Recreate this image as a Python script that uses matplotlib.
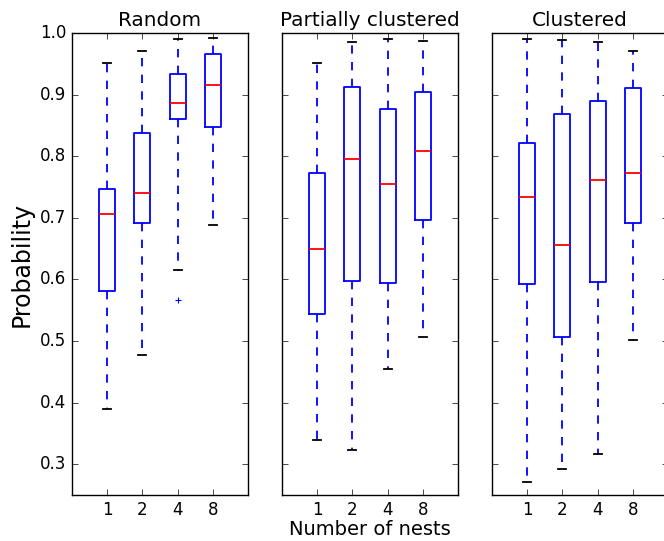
import matplotlib
matplotlib.use("Agg")
import matplotlib.pyplot as plt

plt.style.use('classic')

titles = ['Random', 'Partially clustered', 'Clustered']
nests = ['1', '2', '4', '8']

# whisker low, Q1, median, Q3, whisker high for each nest count
random_low = [0.389, 0.477, 0.616, 0.688]
random_q1 = [0.581, 0.691, 0.861, 0.848]
random_med = [0.706, 0.741, 0.886, 0.915]
random_q3 = [0.746, 0.838, 0.934, 0.966]
random_high = [0.952, 0.971, 0.990, 0.992]
random_fliers = [[], [], [0.566], []]

partial_low = [0.339, 0.323, 0.455, 0.506]
partial_q1 = [0.544, 0.597, 0.594, 0.697]
partial_med = [0.649, 0.796, 0.755, 0.808]
partial_q3 = [0.773, 0.912, 0.877, 0.905]
partial_high = [0.952, 0.986, 0.990, 0.987]
partial_fliers = [[], [], [], []]

clustered_low = [0.271, 0.293, 0.316, 0.502]
clustered_q1 = [0.592, 0.506, 0.596, 0.692]
clustered_med = [0.734, 0.656, 0.762, 0.772]
clustered_q3 = [0.822, 0.869, 0.889, 0.910]
clustered_high = [0.990, 0.989, 0.986, 0.971]
clustered_fliers = [[], [], [], []]

groups = [
    (random_low, random_q1, random_med, random_q3, random_high, random_fliers),
    (partial_low, partial_q1, partial_med, partial_q3, partial_high, partial_fliers),
    (clustered_low, clustered_q1, clustered_med, clustered_q3, clustered_high, clustered_fliers),
]


def make_stats(g):
    stats = []
    for i in range(len(nests)):
        stats.append({'whislo': g[0][i], 'q1': g[1][i], 'med': g[2][i],
                      'q3': g[3][i], 'whishi': g[4][i], 'fliers': g[5][i],
                      'label': nests[i]})
    return stats


fig = plt.figure(figsize=(6.64, 5.41), dpi=100, facecolor='white')
lefts = [72 / 664, 282 / 664, 492 / 664]
axes = []
for k in range(3):
    if k == 0:
        ax = fig.add_axes([lefts[k], 46 / 541, 176 / 664, 462 / 541])
    else:
        ax = fig.add_axes([lefts[k], 46 / 541, 176 / 664, 462 / 541], sharey=axes[0])
    axes.append(ax)
    ax.bxp(make_stats(groups[k]), positions=[1, 2, 3, 4], widths=0.45,
           boxprops=dict(color='b', linewidth=1.3),
           whiskerprops=dict(color='b', linewidth=1.3, linestyle='--'),
           capprops=dict(color='k', linewidth=1.3),
           medianprops=dict(color='r', linewidth=1.3),
           flierprops=dict(marker='+', markeredgecolor='b', markersize=5,
                           markeredgewidth=0.8))
    ax.set_xlim(0, 5)
    ax.set_ylim(0.25, 1.0)
    ax.set_xticks([1, 2, 3, 4])
    ax.set_xticklabels(nests)
    ax.set_title(titles[k], fontsize=14.4)
    if k > 0:
        plt.setp(ax.get_yticklabels(), visible=False)
    ax.tick_params(labelsize=12)

axes[0].set_ylabel('Probability', fontsize=17)
axes[1].set_xlabel('Number of nests', fontsize=14, labelpad=1)

fig.savefig('out.png', dpi=100, facecolor='white')
